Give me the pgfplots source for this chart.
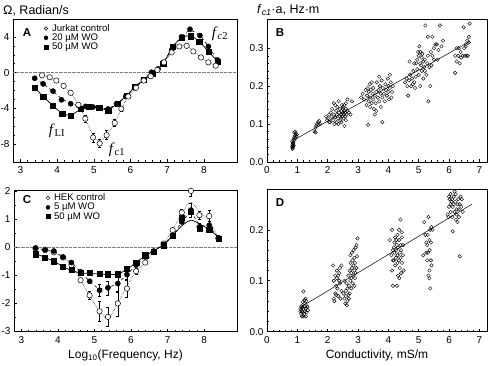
\documentclass[border=0pt]{standalone}
\usepackage{pgfplots}
\pgfplotsset{compat=1.18}
\usepackage{fontspec}
\setmainfont{Liberation Sans}
\newfontfamily\serifit{Liberation Serif}
\pgfplotsset{
  base/.style={scale only axis, anchor=south west,
    axis line style={line width=0.6pt}, tick align=inside,
    xtick pos=left, ytick pos=left,
    major tick length=3pt, minor tick length=1.8pt,
    every tick/.style={black, line width=0.5pt},
    /pgf/number format/assume math mode=true,
    tick label style={font=\fontsize{10}{11}\selectfont},
    xticklabel style={yshift=-1pt},
    legend cell align=left,
    legend style={draw=none, fill=none, inner sep=0pt, row sep=-2pt,
      font=\fontsize{9.6}{10}\selectfont,
      nodes={inner sep=1.5pt}},
    legend image code/.code={\path[draw=none, fill=none] (0cm,0cm) rectangle (0.25cm,0.01cm); \draw[#1] plot coordinates {(0.09cm,0cm)};},
  },
  eb/.style={forget plot, only marks, mark=none,
    error bars/.cd, y dir=both, y explicit,
    error bar style={black, line width=0.45pt},
    error mark options={rotate=90, mark size=1.5pt, black, line width=0.45pt}},
  openm/.style={mark=*, mark options={fill=white, draw=black, line width=0.5pt}, mark size=2.7pt},
  fillm/.style={mark=*, mark options={fill=black, draw=black}, mark size=2.6pt},
  sqm/.style={mark=square*, mark options={fill=black, draw=black}, mark size=2.6pt},
  scat/.style={only marks, mark=o, mark size=1.75pt, mark options={line width=0.4pt, black}},
  zeroline/.style={forget plot, gray, densely dotted, line width=0.3pt},
}
\begin{document}
\begin{tikzpicture}
% ================= A =================
\begin{axis}[base, at={(13pt,-162pt)}, width=224pt, height=143pt,
  xmin=2.8, xmax=8.9, ymin=-10, ymax=6,
  xtick={3,4,5,6,7,8}, ytick={-8,-4,0,4},
  minor x tick num=4, minor y tick num=3,
  legend style={at={(0.135,0.975)}, anchor=north west}]
\addlegendimage{only marks, mark=*, mark options={fill=white, draw=black, line width=0.45pt}, mark size=1.8pt}
\addlegendentry{Jurkat control}
\addlegendimage{only marks, mark=*, mark size=2pt}
\addlegendentry{20 µM WO}
\addlegendimage{only marks, mark=square*, mark size=2pt}
\addlegendentry{50 µM WO}
\addplot[zeroline] coordinates {(2.8,0) (8.9,0)};
% fit lines
\addplot[forget plot, black, densely dotted, line width=0.5pt, smooth] coordinates {
(3.59,-0.30)(3.80,-0.52)(3.98,-0.89)(4.18,-1.48)(4.37,-2.26)(4.58,-3.60)(4.77,-5.15)(4.98,-7.00)(5.16,-7.70)(5.35,-7.00)(5.57,-5.63)(5.75,-4.04)(5.94,-2.67)(6.15,-1.70)(6.36,-0.89)(6.55,-0.41)(6.73,0.30)(6.91,1.15)(7.12,2.26)(7.33,2.93)(7.53,3.00)(7.71,2.37)(7.92,1.70)(8.12,1.15)(8.32,0.78)};
\addplot[forget plot, black, dashed, line width=0.6pt, smooth] coordinates {
(3.39,-0.63)(3.62,-1.26)(3.89,-2.10)(4.12,-2.90)(4.37,-3.45)(4.58,-3.70)(4.78,-3.80)(4.98,-3.87)(5.16,-3.95)(5.39,-4.00)(5.62,-3.50)(5.87,-2.67)(6.12,-1.70)(6.35,-0.81)(6.57,0.04)(6.75,0.55)(6.89,1.15)(7.12,2.52)(7.39,4.00)(7.62,4.70)(7.89,4.15)(8.12,2.93)(8.37,1.41)};
\addplot[forget plot, black, solid, line width=0.7pt, smooth] coordinates {
(3.39,-1.67)(3.62,-2.67)(3.89,-3.70)(4.14,-4.55)(4.37,-4.75)(4.64,-4.10)(4.87,-3.85)(5.15,-3.93)(5.39,-4.15)(5.65,-3.44)(5.89,-2.59)(6.12,-1.56)(6.36,-0.81)(6.60,-0.07)(6.89,1.04)(7.14,2.85)(7.39,3.90)(7.64,4.10)(7.87,3.48)(8.12,2.37)(8.37,1.26)};
% error bars
\addplot[eb] table[x=x, y=y, y error=e] {
x y e
4.77 -5.15 0.35
4.98 -7.26 0.5
5.16 -7.93 0.45
5.35 -7.00 0.5
5.57 -5.63 0.4
5.75 -4.04 0.25
};
% markers
\addplot[forget plot, only marks, sqm] coordinates {
(3.39,-1.67)(3.62,-2.67)(3.89,-3.70)(4.14,-4.59)(4.37,-4.81)(4.64,-4.07)(4.87,-3.85)(5.15,-3.93)(5.39,-4.22)(5.65,-3.44)(5.89,-2.59)(6.12,-1.56)(6.36,-0.81)(6.60,-0.07)(6.89,1.04)(7.14,2.93)(7.39,3.93)(7.64,4.07)(7.87,3.48)(8.12,2.37)(8.37,1.26)};
\addplot[forget plot, only marks, fillm] coordinates {
(3.39,-0.63)(3.62,-1.26)(3.89,-2.07)(4.12,-3.04)(4.37,-3.48)(4.58,-3.67)(4.78,-3.78)(4.98,-3.85)(5.16,-3.93)(5.39,-4.07)(5.62,-3.48)(5.87,-2.67)(6.12,-1.70)(6.35,-0.81)(6.57,0.04)(6.75,0.41)(6.89,1.15)(7.12,2.52)(7.39,4.00)(7.62,4.85)(7.89,4.15)(8.12,2.93)(8.37,1.41)};
\addplot[forget plot, only marks, openm] coordinates {
(3.59,-0.30)(3.80,-0.52)(3.98,-0.89)(4.18,-1.48)(4.37,-2.26)(4.58,-3.60)(4.77,-5.15)(4.98,-7.26)(5.16,-7.93)(5.35,-7.00)(5.57,-5.63)(5.75,-4.04)(5.94,-2.67)(6.15,-1.70)(6.36,-0.89)(6.55,-0.41)(6.73,0.30)(6.91,1.15)(7.12,2.26)(7.33,2.93)(7.53,3.00)(7.71,2.37)(7.92,1.70)(8.12,1.15)(8.32,0.78)};
\end{axis}
% ================= C =================
\begin{axis}[base, at={(14pt,-331.7pt)}, width=223pt, height=141.7pt,
  xmin=2.8, xmax=8.9, ymin=-3.03, ymax=2.03,
  xtick={3,4,5,6,7,8}, ytick={-3,-2,-1,0,1,2},
  minor x tick num=4, minor y tick num=1,
  xlabel={Log\textsubscript{10}(Frequency, Hz)},
  xlabel style={font=\fontsize{12}{13}\selectfont, yshift=0pt},
  legend style={at={(0.14,0.985)}, anchor=north west}]
\addlegendimage{only marks, mark=*, mark options={fill=white, draw=black, line width=0.45pt}, mark size=1.8pt}
\addlegendentry{HEK control}
\addlegendimage{only marks, mark=*, mark size=2pt}
\addlegendentry{5 µM WO}
\addlegendimage{only marks, mark=square*, mark size=2pt}
\addlegendentry{50 µM WO}
\addplot[zeroline] coordinates {(2.8,0) (8.9,0)};
\addplot[forget plot, black, densely dotted, line width=0.5pt, smooth] coordinates {
(3.39,-0.05)(3.65,-0.10)(3.89,-0.20)(4.14,-0.38)(4.37,-0.65)(4.62,-1.19)(4.87,-1.75)(5.14,-2.30)(5.37,-2.55)(5.64,-2.02)(5.89,-1.40)(6.14,-0.87)(6.39,-0.56)(6.62,-0.18)(6.89,0.12)(7.14,0.60)(7.39,1.20)(7.64,1.60)(7.87,1.25)(8.14,0.95)(8.39,0.30)};
\addplot[forget plot, black, dashed, line width=0.6pt, smooth] coordinates {
(3.39,-0.04)(3.65,-0.12)(3.89,-0.17)(4.14,-0.36)(4.37,-0.56)(4.62,-0.89)(4.87,-1.23)(5.14,-1.50)(5.37,-1.46)(5.64,-1.28)(5.89,-0.99)(6.14,-0.65)(6.39,-0.36)(6.62,-0.15)(6.89,0.08)(7.14,0.39)(7.39,0.89)(7.64,1.20)(7.87,0.80)(8.14,0.70)(8.39,0.32)};
\addplot[forget plot, black, solid, line width=0.7pt, smooth] coordinates {
(3.39,-0.24)(3.65,-0.38)(3.89,-0.52)(4.14,-0.70)(4.37,-0.85)(4.62,-0.93)(4.87,-0.95)(5.14,-0.97)(5.37,-0.99)(5.64,-0.97)(5.89,-0.80)(6.14,-0.56)(6.39,-0.32)(6.62,-0.14)(6.89,0.08)(7.14,0.40)(7.39,0.75)(7.64,0.95)(7.87,0.82)(8.14,0.62)(8.39,0.35)};
\addplot[eb] table[x=x, y=y, y error=e] {
x y e
3.39 -0.26 0.12
4.87 -1.73 0.15
5.14 -2.30 0.35
5.37 -2.50 0.35
5.64 -2.02 0.45
5.89 -1.49 0.3
6.14 -0.87 0.12
7.39 1.23 0.1
7.64 2.00 0.2
7.87 1.13 0.15
8.14 1.10 0.2
5.14 -1.55 0.2
5.37 -1.46 0.25
5.64 -1.31 0.3
5.89 -0.99 0.15
7.64 1.31 0.25
7.87 0.71 0.15
8.14 0.77 0.15
8.39 0.32 0.1
};
\addplot[forget plot, only marks, openm] coordinates {
(3.39,-0.06)(3.65,-0.10)(3.89,-0.20)(4.14,-0.38)(4.37,-0.65)(4.62,-1.19)(4.87,-1.73)(5.14,-2.30)(5.37,-2.50)(5.64,-2.02)(5.89,-1.49)(6.14,-0.87)(6.39,-0.56)(6.62,-0.18)(6.89,0.12)(7.14,0.60)(7.39,1.23)(7.64,2.00)(7.87,1.13)(8.14,1.10)(8.39,0.30)};
\addplot[forget plot, only marks, sqm] coordinates {
(3.39,-0.26)(3.65,-0.38)(3.89,-0.51)(4.14,-0.71)(4.37,-0.83)(4.62,-0.93)(4.87,-0.93)(5.14,-0.95)(5.37,-0.98)(5.64,-0.98)(5.89,-0.77)(6.14,-0.56)(6.39,-0.30)(6.62,-0.18)(6.89,0.06)(7.14,0.39)(7.39,1.05)(7.64,1.25)(7.87,0.65)(8.14,0.60)(8.39,0.30)};
\addplot[forget plot, only marks, fillm] coordinates {
(3.39,-0.04)(3.65,-0.12)(3.89,-0.15)(4.14,-0.36)(4.37,-0.56)(4.62,-0.89)(4.87,-1.23)(5.14,-1.55)(5.37,-1.46)(5.64,-1.31)(5.89,-0.99)(6.14,-0.65)(6.39,-0.36)(6.62,-0.15)(6.89,0.08)(7.14,0.39)(7.39,0.89)(7.64,1.31)(7.87,0.71)(8.14,0.77)(8.39,0.32)};
\end{axis}
% ================= B =================
\begin{axis}[base, at={(267pt,-162pt)}, width=220pt, height=143pt,
  xmin=0, xmax=7.25, ymin=0, ymax=0.377,
  xtick={0,1,2,3,4,5,6,7}, ytick={0,0.1,0.2,0.3},
  yticklabel style={/pgf/number format/fixed, /pgf/number format/fixed zerofill, /pgf/number format/precision=1},
  minor x tick num=4, minor y tick num=4]
\addplot[black, line width=0.5pt] coordinates {(0.91,0.059) (6.69,0.318)};
\addplot[scat] coordinates {
(0.83,0.040)(0.84,0.045)(0.85,0.050)(0.83,0.055)(0.86,0.042)(0.87,0.048)(0.85,0.038)(0.88,0.060)(0.90,0.065)(0.92,0.070)(0.93,0.080)(0.95,0.075)(0.97,0.068)(0.90,0.078)(0.86,0.052)(0.84,0.035)(0.88,0.044)(0.91,0.058)(0.94,0.063)(0.98,0.072)
(1.57,0.080)(1.60,0.078)(1.62,0.095)(1.65,0.100)(1.68,0.105)(1.70,0.098)(1.72,0.108)(1.75,0.100)(1.60,0.090)
(1.95,0.12)(2.0,0.115)(2.05,0.125)(2.08,0.105)(2.1,0.13)(2.12,0.12)(2.15,0.14)(2.18,0.11)(2.2,0.125)(2.22,0.10)(2.25,0.15)(2.25,0.118)(2.28,0.135)(2.3,0.105)(2.3,0.125)(2.32,0.145)(2.35,0.115)(2.36,0.16)(2.38,0.13)(2.4,0.12)(2.4,0.14)(2.42,0.11)(2.45,0.135)(2.45,0.125)(2.47,0.15)(2.48,0.12)(2.5,0.13)(2.5,0.14)(2.5,0.145)(2.52,0.115)(2.53,0.125)(2.55,0.135)(2.55,0.15)(2.57,0.13)(2.58,0.12)(2.6,0.14)(2.6,0.11)(2.62,0.125)(2.65,0.135)(2.55,0.095)(2.7,0.13)(2.75,0.125)(2.8,0.16)(2.65,0.165)(2.2,0.155)(2.05,0.105)(1.98,0.11)(2.35,0.10)(2.45,0.105)(2.6,0.155)
(3.1,0.17)(3.15,0.18)(3.2,0.165)(3.25,0.19)(3.28,0.15)(3.3,0.175)(3.32,0.195)(3.33,0.098)(3.35,0.16)(3.35,0.185)(3.38,0.205)(3.4,0.145)(3.4,0.17)(3.42,0.19)(3.45,0.155)(3.45,0.21)(3.48,0.18)(3.5,0.165)(3.5,0.195)(3.52,0.14)(3.55,0.175)(3.58,0.155)(3.6,0.185)(3.6,0.135)(3.65,0.17)(3.68,0.19)(3.7,0.16)(3.72,0.2)(3.75,0.18)(3.75,0.145)(3.78,0.215)(3.8,0.105)(3.8,0.17)(3.82,0.195)(3.85,0.18)(3.88,0.16)(3.9,0.205)(3.92,0.19)(3.95,0.175)(3.98,0.22)(4.0,0.2)(4.0,0.185)(4.02,0.165)(4.05,0.23)(4.05,0.195)(4.08,0.21)(4.1,0.17)(4.12,0.185)(4.15,0.2)(3.62,0.21)(3.55,0.125)(3.7,0.225)
(4.55,0.21)(4.6,0.22)(4.62,0.2)(4.65,0.175)(4.68,0.215)(4.7,0.265)(4.72,0.23)(4.75,0.2)(4.78,0.22)(4.8,0.205)(4.82,0.24)(4.85,0.21)(4.88,0.195)(4.9,0.225)(4.92,0.26)(4.95,0.27)(4.95,0.245)(4.98,0.29)(5.0,0.28)(5.0,0.23)(5.02,0.305)(5.05,0.26)(5.05,0.29)(5.08,0.255)(5.1,0.275)(5.1,0.24)(5.12,0.285)(5.15,0.265)(5.15,0.22)(5.18,0.25)(5.2,0.27)(5.22,0.36)(5.25,0.23)(5.28,0.26)(5.3,0.33)(5.3,0.28)(5.32,0.16)(5.35,0.25)(5.38,0.2)(5.4,0.29)(5.42,0.255)(5.45,0.28)(5.05,0.20)(4.85,0.26)(5.2,0.24)(5.5,0.3)
(5.55,0.31)(5.6,0.31)(5.62,0.27)(5.65,0.295)(5.7,0.36)(5.75,0.305)(5.8,0.32)(6.2,0.235)(6.25,0.265)(6.3,0.28)(6.32,0.3)(6.35,0.26)(6.38,0.29)(6.4,0.275)(6.45,0.28)(6.48,0.355)(6.5,0.3)(6.52,0.28)(6.55,0.31)(6.58,0.28)(6.6,0.32)(6.62,0.28)(6.65,0.33)(6.68,0.365)(6.65,0.315)(6.2,0.28)(6.25,0.30)(5.45,0.33)(5.5,0.27)(6.55,0.305)};
\end{axis}
% ================= D =================
\begin{axis}[base, at={(267pt,-331.7pt)}, width=220pt, height=142.7pt,
  xmin=0, xmax=7.25, ymin=0, ymax=0.28,
  xtick={0,1,2,3,4,5,6,7}, ytick={0,0.1,0.2},
  yticklabel style={/pgf/number format/fixed, /pgf/number format/fixed zerofill, /pgf/number format/precision=1},
  minor x tick num=4, minor y tick num=4,
  xlabel={Conductivity, mS/m},
  xlabel style={font=\fontsize{12}{13}\selectfont, yshift=0pt}]
\addplot[black, line width=0.5pt] coordinates {(1.19,0.051) (6.75,0.25)};
\addplot[scat] coordinates {
(1.1,0.045)(1.12,0.035)(1.13,0.05)(1.15,0.03)(1.15,0.04)(1.17,0.048)(1.18,0.038)(1.2,0.079)(1.2,0.03)(1.2,0.045)(1.22,0.055)(1.22,0.035)(1.25,0.04)(1.25,0.05)(1.27,0.065)(1.28,0.045)(1.3,0.06)(1.3,0.038)(1.32,0.05)(1.35,0.042)(1.18,0.058)(1.28,0.03)(1.14,0.047)(1.24,0.062)(1.33,0.048)(1.1,0.04)
(2.18,0.13)(2.2,0.1)(2.2,0.065)(2.22,0.06)(2.25,0.11)(2.25,0.075)(2.28,0.09)(2.3,0.105)(2.3,0.12)(2.32,0.085)(2.35,0.11)(2.35,0.07)(2.38,0.1)(2.4,0.125)(2.4,0.095)(2.42,0.065)(2.45,0.13)(2.45,0.08)(2.28,0.072)(2.38,0.115)
(2.52,0.075)(2.55,0.065)(2.55,0.1)(2.58,0.055)(2.6,0.08)(2.6,0.07)(2.62,0.095)(2.63,0.052)(2.65,0.085)(2.65,0.06)(2.68,0.11)(2.7,0.09)(2.7,0.065)(2.72,0.12)(2.72,0.075)(2.75,0.1)(2.75,0.135)(2.75,0.15)(2.78,0.085)(2.78,0.115)(2.8,0.125)(2.8,0.155)(2.82,0.095)(2.82,0.14)(2.85,0.11)(2.85,0.13)(2.85,0.16)(2.88,0.12)(2.88,0.145)(2.9,0.105)(2.9,0.135)(2.92,0.165)(2.92,0.115)(2.95,0.125)(2.95,0.17)(2.97,0.148)(2.98,0.183)(2.78,0.105)(2.68,0.072)(2.88,0.09)
(4.05,0.18)(4.1,0.15)(4.12,0.2)(4.12,0.12)(4.15,0.09)(4.15,0.14)(4.18,0.165)(4.2,0.175)(4.2,0.155)(4.22,0.13)(4.22,0.185)(4.25,0.145)(4.25,0.16)(4.28,0.09)(4.28,0.17)(4.3,0.135)(4.3,0.15)(4.3,0.19)(4.32,0.11)(4.32,0.165)(4.35,0.14)(4.35,0.2)(4.35,0.18)(4.38,0.155)(4.38,0.125)(4.4,0.17)(4.4,0.145)(4.4,0.22)(4.42,0.115)(4.42,0.16)(4.45,0.185)(4.45,0.135)(4.48,0.17)(4.48,0.15)(4.5,0.12)(4.18,0.14)(4.26,0.18)(4.36,0.105)(4.44,0.195)(4.15,0.16)
(5.15,0.15)(5.18,0.215)(5.22,0.19)(5.25,0.155)(5.25,0.175)(5.28,0.14)(5.3,0.19)(5.3,0.155)(5.32,0.225)(5.32,0.11)(5.35,0.105)(5.35,0.18)(5.35,0.12)(5.38,0.085)(5.38,0.2)(5.4,0.175)(5.4,0.14)(5.42,0.205)(5.42,0.13)(5.45,0.2)(5.28,0.17)(5.36,0.16)
(5.95,0.23)(5.98,0.225)(6.0,0.265)(6.0,0.245)(6.02,0.26)(6.05,0.27)(6.05,0.235)(6.08,0.255)(6.1,0.26)(6.1,0.225)(6.12,0.197)(6.12,0.245)(6.15,0.265)(6.15,0.25)(6.18,0.235)(6.2,0.255)(6.22,0.27)(6.22,0.22)(6.25,0.24)(6.25,0.23)(6.28,0.215)(6.28,0.25)(6.3,0.26)(6.32,0.225)(6.32,0.24)(6.35,0.148)(6.38,0.265)(6.4,0.245)(6.42,0.26)(6.45,0.235)(6.05,0.25)(6.18,0.275)(6.35,0.25)};
\end{axis}
% ================= texts =================
\node[anchor=west, font=\fontsize{12.5}{13}\selectfont, inner sep=0pt] at (3pt,-11pt) {Ω, Radian/s};
\node[anchor=west, font=\fontsize{12.5}{13}\selectfont, inner sep=0pt] at (257pt,-10pt) {\textit{f}\textsubscript{\textit{c1}}·a, Hz·m};
\node[font=\bfseries\fontsize{11.5}{12}\selectfont] at (27pt,-33pt) {A};
\node[font=\bfseries\fontsize{11.5}{12}\selectfont] at (280pt,-33pt) {B};
\node[font=\bfseries\fontsize{11.5}{12}\selectfont] at (27pt,-200pt) {C};
\node[font=\bfseries\fontsize{11.5}{12}\selectfont] at (280pt,-203pt) {D};
\node[font=\serifit\fontsize{15}{16}\selectfont] at (220pt,-34pt) {\textit{f}\textsubscript{\textit{c}2}};
\node[font=\serifit\fontsize{15}{16}\selectfont] at (57pt,-131pt) {\textit{f}\textsubscript{LI}};
\node[font=\serifit\fontsize{15}{16}\selectfont] at (117pt,-150pt) {\textit{f}\textsubscript{c1}};
\pgfresetboundingbox
\path[use as bounding box] (0pt,0pt) rectangle (488pt,-365pt);
\end{tikzpicture}
\end{document}
